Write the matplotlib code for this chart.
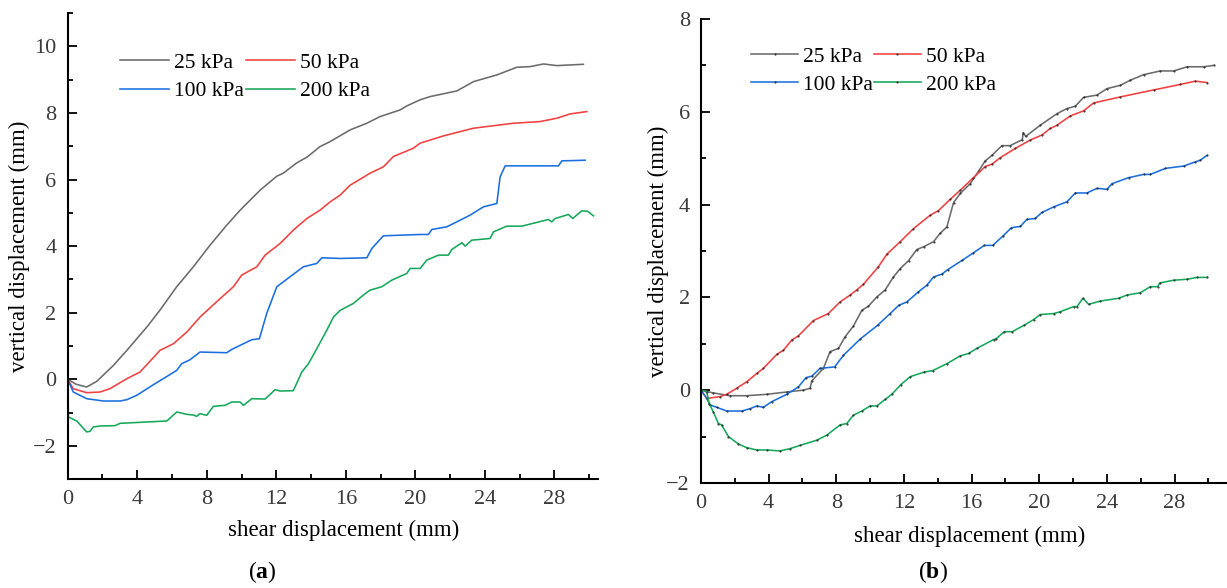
import numpy as np
import matplotlib
matplotlib.use('Agg')
import matplotlib.pyplot as plt
from matplotlib.ticker import MultipleLocator

plt.rcParams['font.family'] = ['Liberation Serif', 'DejaVu Serif']
plt.rcParams['mathtext.fontset'] = 'custom'
plt.rcParams['mathtext.rm'] = 'Liberation Serif'
plt.rcParams['mathtext.bf'] = 'Liberation Serif:bold'

labels = ['25 kPa', '50 kPa', '100 kPa', '200 kPa']
colors = ['#6b6b6b', '#f14040', '#1a6fdf', '#16a85a']

# ---- panel (a) ----
a25_x = [0, 0.5, 1.09, 1.67, 2.63, 3.4, 4.55, 5.31, 6.27, 7.23, 8.19, 9.15, 9.92, 11.07, 12.03,
         12.4, 13.18, 13.76, 14.52, 15.1, 16.25, 17.21, 17.97, 19.13, 19.51, 20.26, 20.85, 22.39,
         23.35, 24.69, 25.84, 26.61, 27.37, 28.14, 29.67]
a25_y = [0, -0.15, -0.23, -0.06, 0.42, 0.87, 1.57, 2.08, 2.78, 3.38, 4.03, 4.63, 5.08, 5.68, 6.1,
         6.19, 6.5, 6.67, 6.99, 7.14, 7.49, 7.69, 7.89, 8.09, 8.21, 8.39, 8.49, 8.66,
         8.94, 9.14, 9.37, 9.39, 9.47, 9.42, 9.46]

a50_x = [0, 0.32, 1.09, 1.86, 2.43, 3.4, 4.16, 5.31, 6.08, 6.85, 7.61, 8.57, 9.53, 10.01, 10.88,
         11.36, 12.22, 12.98, 13.76, 14.52, 15.1, 15.67, 16.25, 17.4, 18.16, 18.74, 19.89, 20.27,
         21.62, 23.34, 25.65, 27.18, 28.14, 28.91, 29.87]
a50_y = [0, -0.28, -0.4, -0.38, -0.28, 0.02, 0.22, 0.87, 1.07, 1.42, 1.87, 2.33, 2.78, 3.13, 3.38,
         3.73, 4.08, 4.48, 4.83, 5.08, 5.33, 5.53, 5.83, 6.19, 6.38, 6.69, 6.94, 7.09,
         7.31, 7.54, 7.69, 7.74, 7.84, 7.97, 8.04]

a100_x = [0, 0.32, 1.09, 2.05, 3.01, 3.4, 3.97, 4.93, 5.5, 6.27, 6.56, 7.04, 7.61, 9.15, 9.44,
          10.59, 11.03, 11.45, 12.03, 12.79, 13.56, 14.33, 14.62, 15.67, 17.21, 17.5, 18.16, 20.27,
          20.75, 20.95, 21.81, 22.39, 23.15, 23.92, 24.69, 24.88, 25.17, 26.61, 28.24, 28.43, 29.77]
a100_y = [0, -0.38, -0.58, -0.65, -0.65, -0.61, -0.48, -0.16, 0.02, 0.27, 0.47, 0.59, 0.82, 0.8, 0.9,
          1.19, 1.22, 1.98, 2.78, 3.08, 3.38, 3.48, 3.65, 3.63, 3.65, 3.93, 4.31, 4.35,
          4.35, 4.5, 4.58, 4.73, 4.93, 5.18, 5.28, 6.08, 6.41, 6.41, 6.41, 6.56, 6.58]

a200_x = [0, 0.04, 0.52, 1.09, 1.28, 1.47, 1.86, 2.72, 3.01, 4.55, 5.7, 6.27, 6.85, 7.23, 7.42,
          7.61, 8.0, 8.38, 9.05, 9.44, 9.92, 10.11, 10.59, 11.36, 11.93, 12.22, 12.98, 13.47,
          13.85, 14.33, 14.9, 15.29, 15.67, 16.44, 17.01, 17.4, 18.07, 18.65, 19.51, 19.7, 20.28,
          20.66, 21.33, 21.9, 22.1, 22.68, 22.87, 23.25, 24.3, 24.5, 25.26, 26.13, 27.66, 27.85,
          28.05, 28.81, 29.06, 29.58, 29.9, 30.25]
a200_y = [0, -1.13, -1.25, -1.58, -1.56, -1.43, -1.4, -1.39, -1.32, -1.28, -1.25, -0.98, -1.05, -1.07, -1.11,
          -1.03, -1.08, -0.81, -0.78, -0.68, -0.68, -0.78, -0.58, -0.59, -0.31, -0.35, -0.34, 0.22,
          0.47, 0.92, 1.47, 1.87, 2.07, 2.28, 2.53, 2.68, 2.78, 2.98, 3.18, 3.33, 3.33,
          3.58, 3.73, 3.73, 3.9, 4.1, 4.0, 4.18, 4.23, 4.43, 4.6, 4.6, 4.8, 4.73,
          4.83, 4.95, 4.83, 5.06, 5.05, 4.91]

# ---- panel (b) ----
b25_x = [0, 0.73, 1.72, 2.7, 3.89, 5.07, 6.05, 6.45, 6.55, 7.24, 7.63, 8.13, 8.52, 9.01, 9.51,
         9.9, 10.4, 10.89, 11.38, 11.78, 12.27, 12.76, 13.16, 13.75, 14.14, 14.54, 14.93, 15.33,
         15.92, 16.41, 16.8, 17.2, 17.79, 18.28, 19.0, 19.05, 19.2, 20.06, 21.05, 21.64, 22.13,
         22.62, 23.41, 24.01, 24.79, 25.38, 26.17, 27.16, 27.95, 28.74, 29.72, 30.31]
b25_y = [0, -0.06, -0.12, -0.12, -0.09, -0.04, 0, 0.04, 0.2, 0.47, 0.83, 0.9, 1.15, 1.38, 1.72,
         1.81, 2.01, 2.16, 2.44, 2.62, 2.79, 3.03, 3.09, 3.2, 3.38, 3.52, 4.04, 4.24,
         4.45, 4.72, 4.94, 5.06, 5.27, 5.27, 5.4, 5.55, 5.47, 5.71, 5.96, 6.07, 6.12,
         6.31, 6.36, 6.5, 6.57, 6.68, 6.8, 6.88, 6.88, 6.97, 6.97, 7.0]

b50_x = [0, 0.34, 1.12, 1.52, 2.11, 2.7, 3.3, 3.69, 4.48, 4.87, 5.37, 5.76, 6.65, 7.53, 8.22,
         8.82, 9.21, 9.6, 10.49, 10.99, 11.78, 12.56, 13.55, 14.04, 14.73, 15.33, 16.11, 16.8,
         17.2, 17.69, 18.58, 19.47, 20.16, 20.65, 21.05, 21.83, 22.62, 23.21, 24.79, 26.76,
         28.34, 29.23, 29.92]
b50_y = [0, -0.18, -0.14, -0.09, 0.04, 0.18, 0.36, 0.47, 0.77, 0.86, 1.08, 1.17, 1.5, 1.65, 1.9,
         2.05, 2.16, 2.28, 2.66, 2.93, 3.2, 3.48, 3.77, 3.87, 4.11, 4.31, 4.58, 4.82,
         4.87, 5.01, 5.21, 5.39, 5.5, 5.64, 5.71, 5.91, 6.02, 6.19, 6.32, 6.47,
         6.59, 6.66, 6.63]

b100_x = [0, 0.34, 0.53, 0.93, 1.52, 2.41, 2.9, 3.3, 3.69, 4.18, 5.07, 5.76, 6.21, 6.55, 7.04,
          7.9, 8.42, 9.41, 10.45, 11.18, 11.7, 12.17, 12.86, 13.35, 13.75, 14.24, 14.6, 15.45,
          16.11, 16.75, 17.25, 17.85, 18.35, 18.88, 19.27, 19.76, 20.16, 20.85, 21.64, 22.13,
          22.82, 23.41, 24.01, 24.3, 25.28, 26.17, 26.57, 27.46, 28.54, 29.23, 29.53, 29.92]
b100_y = [0, -0.18, -0.32, -0.37, -0.45, -0.45, -0.4, -0.34, -0.37, -0.25, -0.09, 0.07, 0.27, 0.3, 0.47,
          0.5, 0.75, 1.1, 1.4, 1.65, 1.83, 1.9, 2.12, 2.26, 2.44, 2.5, 2.6, 2.8,
          2.96, 3.12, 3.12, 3.32, 3.5, 3.53, 3.68, 3.7, 3.83, 3.95, 4.06, 4.25,
          4.25, 4.35, 4.33, 4.45, 4.58, 4.65, 4.65, 4.78, 4.83, 4.92, 4.96, 5.06]

b200_x = [0, 0.34, 0.49, 0.73, 1.03, 1.22, 1.62, 2.21, 2.7, 3.3, 3.89, 4.67, 5.27, 5.86, 6.84,
          7.44, 8.22, 8.62, 9.01, 9.51, 10.0, 10.4, 10.89, 11.28, 11.82, 12.37, 13.2, 13.7,
          14.54, 15.33, 15.82, 16.31, 17.3, 17.46, 17.93, 18.4, 19.11, 19.66, 20.06, 20.85,
          21.24, 22.03, 22.23, 22.58, 22.92, 23.61, 24.69, 25.19, 25.98, 26.57, 27.0, 27.12,
          27.95, 28.74, 29.33, 29.92]
b200_y = [0, -0.04, -0.29, -0.47, -0.72, -0.75, -1.0, -1.16, -1.24, -1.29, -1.29, -1.31, -1.26, -1.19, -1.08,
          -0.97, -0.75, -0.72, -0.54, -0.45, -0.34, -0.34, -0.2, -0.09, 0.12, 0.29, 0.39, 0.42,
          0.57, 0.74, 0.79, 0.9, 1.09, 1.11, 1.26, 1.26, 1.4, 1.52, 1.63, 1.65,
          1.69, 1.8, 1.8, 1.98, 1.85, 1.92, 1.98, 2.05, 2.1, 2.23, 2.23, 2.31,
          2.37, 2.39, 2.43, 2.43]

fig = plt.figure(figsize=(12.27, 5.88), dpi=100)
ax1 = fig.add_axes([0.0552, 0.1849, 0.432, 0.793])
ax2 = fig.add_axes([0.5713, 0.1787, 0.4287, 0.789])

for i, (xs, ys) in enumerate([(a25_x, a25_y), (a50_x, a50_y), (a100_x, a100_y), (a200_x, a200_y)]):
    ax1.plot(xs, ys, color=colors[i], lw=1.15, label=labels[i])

for i, (xs, ys) in enumerate([(b25_x, b25_y), (b50_x, b50_y), (b100_x, b100_y), (b200_x, b200_y)]):
    ax2.plot(xs, ys, color=colors[i], lw=1.15, label=labels[i],
             marker='.', ms=1.0, mfc='#222222', mec='#222222')

def style(ax, xlim, ylim):
    ax.set_xlim(*xlim)
    ax.set_ylim(*ylim)
    ax.xaxis.set_major_locator(MultipleLocator(4))
    ax.xaxis.set_minor_locator(MultipleLocator(2))
    ax.yaxis.set_major_locator(MultipleLocator(2))
    ax.yaxis.set_minor_locator(MultipleLocator(1))
    for s in ['top', 'right']:
        ax.spines[s].set_visible(False)
    for s in ['left', 'bottom']:
        ax.spines[s].set_linewidth(1.5)
    ax.tick_params(which='major', direction='in', length=6.5, width=1.3,
                   labelsize=16, labelcolor='#3a3a3a', pad=8)
    ax.tick_params(which='minor', direction='in', length=3.6, width=1.3)
    ax.set_xlabel('shear displacement (mm)', fontsize=16.5)
    ax.set_ylabel('vertical displacement (mm)', fontsize=16.5)
    yt = ax.get_yticks()
    ax.set_yticklabels([str(int(v)).replace('-', '\u2212') for v in yt])

style(ax1, (0, 30.5), (-3, 11))
style(ax2, (0, 31.1), (-2, 8))
ax1.xaxis.set_label_coords(0.52, -0.086)
ax1.yaxis.set_label_coords(-0.072, 0.5)
ax2.xaxis.set_label_coords(0.51, -0.093)
ax2.yaxis.set_label_coords(-0.061, 0.5)

# row-wise legend order: 25, 50 / 100, 200
order = [0, 2, 1, 3]
for ax, anchor, hl, cs, ls in [(ax1, (0.099, 0.915), 2.26, 0.1, 0.39),
                               (ax2, (0.096, 0.94), 2.16, 0.05, 0.36)]:
    h, l = ax.get_legend_handles_labels()
    ax.legend([h[k] for k in order], [l[k] for k in order], loc='upper left',
              bbox_to_anchor=anchor, ncol=2, frameon=False, fontsize=15.5,
              borderpad=0, borderaxespad=0, handlelength=hl, handletextpad=0.24,
              columnspacing=cs, labelspacing=ls, numpoints=1)

fig.text(262 / 1227, 1 - 572 / 588, '($\\mathbf{a}$)', ha='center', va='center', fontsize=17)
fig.text(933 / 1227, 1 - 572 / 588, '($\\mathbf{b}$)', ha='center', va='center', fontsize=17)

fig.savefig('out.png', dpi=100)
